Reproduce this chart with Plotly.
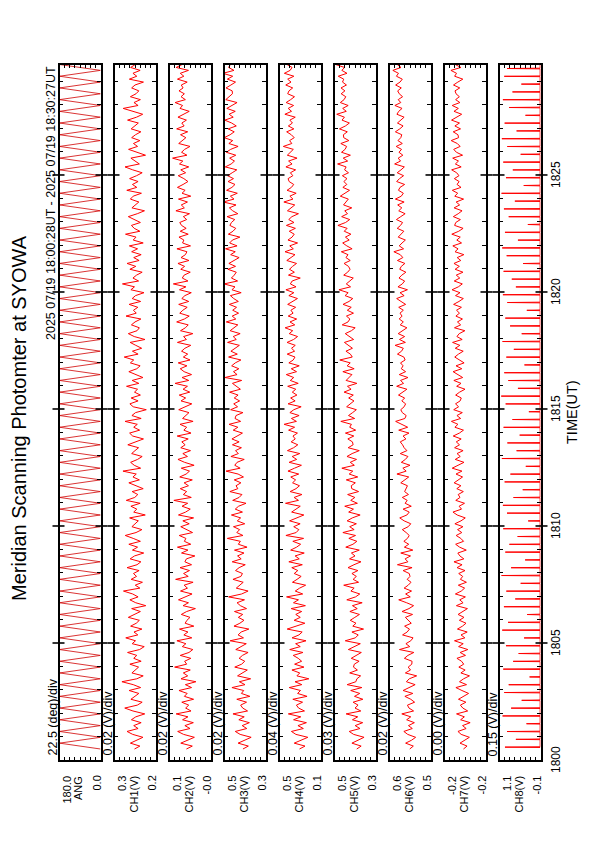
import plotly.graph_objects as go

# ---------------- data ----------------
panel_names = ["ANG", "CH1(V)", "CH2(V)", "CH3(V)", "CH4(V)", "CH5(V)", "CH6(V)", "CH7(V)", "CH8(V)"]
panel_min = [0.0, 0.17, -0.03, 0.33, 0.14, 0.26, 0.46, -0.215, -0.10]
panel_div = [22.5, 0.02, 0.02, 0.02, 0.04, 0.03, 0.02, 0.004, 0.15]
div_labels = ["22.5 (deg)/div", "0.02 (V)/div", "0.02 (V)/div", "0.02 (V)/div", "0.04 (V)/div",
              "0.03 (V)/div", "0.02 (V)/div", "0.00 (V)/div", "0.15 (V)/div"]
top_labels = ["180.0", "0.3", "0.1", "0.5", "0.5", "0.5", "0.6", "-0.2", "1.1"]
bottom_labels = ["0.0", "0.2", "-0.0", "0.3", "0.1", "0.3", "0.5", "-0.2", "-0.1"]

time_tick_vals = [0, 5, 10, 15, 20, 25]          # minutes after 18:00 UT
time_tick_text = ["1800", "1805", "1810", "1815", "1820", "1825"]
time_range = [0, 29.7]

title_text = "Meridian Scanning Photomter at SYOWA"
subtitle_text = "2025 07/19 18:00:28UT - 2025 07/19 18:30:27UT"

# scan angle (deg), one turning point every 15 s from 18:00:28
ang_start, ang_step = 0.47, 0.25
ang_deg = [0, 180, 0, 180, 0, 180, 0, 180, 0, 180, 0, 180, 0, 180, 0, 180, 0, 180, 0, 180,
           0, 180, 0, 180, 0, 180, 0, 180, 0, 180, 0, 180, 0, 180, 0, 180, 0, 180, 0, 180,
           0, 180, 0, 180, 0, 180, 0, 180, 0, 180, 0, 180, 0, 180, 0, 180, 0, 180, 0, 180,
           0, 180, 0, 180, 0, 180, 0, 180, 0, 180, 0, 180, 0, 180, 0, 180, 0, 180, 0, 180,
           0, 180, 0, 180, 0, 180, 0, 180, 0, 180, 0, 180, 0, 180, 0, 180, 0, 180, 0, 180,
           0, 180, 0, 180, 0, 180, 0, 180, 0, 180, 0, 180, 0, 180, 0, 180, 0, 180, 0, 180]

# photometer channels (mV), one sample every 7.5 s from 18:00:28
ch_start, ch_step = 0.47, 0.125
ch1_mv = [252, 231, 268, 244, 219, 259, 281, 238, 255, 226, 264, 247, 212, 258, 290,
          241, 222, 266, 250, 235, 273, 228, 257, 301, 243, 218, 262, 249, 236, 270,
          226, 255, 243, 279, 232, 214, 261, 248, 286, 239, 254, 223, 267, 245, 233,
          276, 251, 229, 263, 208, 247, 270, 238, 259, 295, 231, 249, 221, 265, 244,
          256, 234, 281, 242, 227, 269, 252, 216, 260, 240, 274, 229, 257, 288, 246,
          223, 262, 248, 237, 271, 210, 255, 243, 266, 230, 284, 251, 239, 261, 218,
          249, 274, 233, 258, 245, 297, 228, 253, 267, 240, 222, 263, 250, 236, 278,
          244, 217, 259, 271, 232, 255, 241, 289, 226, 262, 248, 206, 257, 270, 238,
          265, 229, 252, 240, 283, 235, 261, 219, 250, 274, 243, 230, 268, 255, 292,
          238, 260, 224, 247, 269, 211, 253, 276, 242, 233, 264, 250, 227, 285, 245,
          256, 239, 273, 228, 261, 248, 215, 266, 252, 299, 236, 258, 244, 222, 270,
          247, 281, 234, 255, 226, 263, 240, 272, 218, 257, 246, 287, 231, 253, 264,
          229, 250, 276, 241, 213, 262, 249, 235, 268, 257, 225, 282, 243, 260, 238,
          271, 244, 222, 259, 289, 233, 251, 266, 209, 247, 275, 240, 256, 231, 263,
          248, 227, 265, 252, 237, 279, 244, 220, 261, 296, 238, 254, 229, 268, 246,
          235, 263, 250, 217, 272, 243, 258, 230, 267, 249, 284, 226, 255, 241, 262]
ch2_mv = [64, 41, 86, 57, 33, 75, 98, 50, 70, 37, 79, 58, 104, 46, 67,
          55, 82, 36, 72, 61, 93, 44, 68, 27, 85, 59, 76, 49, 110, 63,
          71, 47, 88, 54, 39, 80, 66, 101, 43, 74, 58, 91, 35, 69, 62,
          50, 84, 63, 29, 77, 56, 95, 68, 42, 87, 60, 73, 38, 106, 57,
          75, 52, 89, 44, 70, 64, 31, 83, 58, 99, 47, 72, 66, 92, 40,
          61, 86, 53, 78, 36, 95, 67, 49, 81, 59, 113, 45, 76, 63, 88,
          56, 73, 41, 90, 65, 52, 84, 34, 71, 97, 60, 78, 48, 86, 69,
          82, 57, 100, 46, 74, 63, 89, 38, 79, 66, 54, 94, 70, 43, 85,
          67, 92, 51, 77, 60, 108, 55, 81, 44, 73, 88, 62, 96, 50, 76,
          59, 83, 70, 47, 99, 64, 75, 39, 87, 68, 57, 102, 72, 53, 90,
          78, 61, 94, 55, 82, 70, 45, 91, 66, 115, 58, 80, 73, 49, 86,
          71, 97, 54, 85, 68, 62, 101, 48, 79, 74, 93, 57, 88, 65, 83,
          90, 63, 76, 52, 105, 72, 84, 60, 95, 47, 81, 69, 99, 77, 58,
          74, 96, 67, 86, 55, 91, 78, 118, 62, 83, 71, 50, 94, 80, 66,
          87, 59, 102, 73, 82, 64, 97, 76, 53, 89, 79, 108, 68, 85, 72,
          93, 77, 84, 61, 99, 74, 88, 56, 104, 81, 70, 95, 79, 112, 83]
ch3_mv = [418, 397, 437, 409, 386, 429, 448, 403, 421, 393, 434, 413, 457, 400, 419,
          427, 404, 442, 391, 424, 415, 461, 410, 432, 388, 439, 418, 401, 450, 423,
          411, 433, 420, 398, 446, 427, 405, 468, 416, 437, 425, 395, 453, 430, 414,
          436, 419, 451, 404, 428, 441, 412, 474, 423, 398, 444, 431, 417, 457, 426,
          420, 447, 433, 409, 460, 425, 439, 414, 451, 402, 436, 428, 479, 418, 442,
          431, 455, 411, 440, 427, 463, 420, 448, 435, 406, 458, 433, 422, 469, 438,
          445, 426, 452, 416, 437, 484, 429, 450, 441, 413, 465, 436, 447, 424, 459,
          433, 461, 442, 420, 456, 438, 472, 427, 449, 445, 418, 466, 439, 454, 431,
          452, 437, 470, 428, 446, 459, 423, 488, 441, 455, 434, 462, 448, 426, 474,
          440, 465, 449, 432, 478, 444, 456, 429, 468, 451, 438, 483, 446, 460, 435,
          458, 443, 471, 436, 454, 467, 425, 461, 449, 492, 439, 463, 452, 444, 477,
          447, 473, 455, 433, 466, 448, 486, 441, 470, 459, 430, 475, 457, 446, 469,
          463, 450, 480, 438, 458, 471, 445, 495, 453, 467, 440, 482, 461, 449, 476,
          455, 478, 460, 442, 487, 464, 451, 470, 446, 483, 466, 437, 473, 458, 491,
          468, 452, 476, 444, 462, 489, 456, 472, 448, 481, 463, 441, 485, 470, 459,
          460, 484, 465, 447, 479, 458, 496, 453, 474, 467, 449, 488, 462, 477, 471]
ch4_mv = [304, 261, 345, 288, 239, 332, 367, 274, 316, 250, 350, 294, 391, 265, 311,
          328, 280, 356, 245, 319, 296, 384, 286, 339, 231, 324, 302, 363, 269, 342,
          287, 314, 353, 277, 380, 298, 334, 253, 362, 308, 283, 400, 321, 262, 346,
          298, 333, 287, 369, 258, 351, 312, 405, 279, 337, 303, 256, 359, 323, 291,
          345, 317, 364, 282, 387, 306, 338, 267, 373, 327, 295, 356, 272, 410, 330,
          309, 349, 299, 381, 322, 270, 365, 334, 298, 413, 312, 346, 285, 377, 331,
          304, 358, 334, 372, 310, 394, 343, 289, 385, 326, 361, 302, 398, 350, 317,
          369, 337, 355, 320, 389, 342, 424, 328, 367, 307, 379, 348, 291, 393, 338,
          373, 324, 360, 333, 396, 314, 376, 349, 407, 327, 368, 306, 387, 353, 339,
          400, 342, 366, 337, 401, 350, 319, 384, 357, 416, 341, 378, 326, 392, 354,
          371, 334, 396, 355, 320, 387, 348, 410, 331, 375, 361, 298, 390, 344, 382,
          358, 327, 403, 366, 339, 417, 352, 380, 319, 394, 362, 345, 384, 336, 406,
          347, 388, 363, 312, 398, 370, 341, 426, 355, 379, 330, 401, 367, 349, 385,
          393, 356, 375, 334, 410, 362, 389, 323, 399, 371, 352, 430, 364, 381, 345,
          368, 404, 348, 391, 359, 379, 337, 418, 366, 392, 350, 408, 373, 343, 396,
          386, 357, 411, 370, 396, 348, 422, 377, 362, 401, 339, 389, 375, 415, 360]
ch5_mv = [370, 344, 398, 359, 327, 388, 414, 351, 379, 335, 395, 364, 432, 346, 380,
          362, 391, 334, 383, 352, 405, 340, 426, 375, 369, 347, 411, 366, 389, 384,
          356, 402, 371, 343, 419, 386, 349, 437, 378, 361, 398, 330, 393, 374, 408,
          381, 354, 410, 367, 395, 338, 428, 377, 352, 404, 385, 446, 359, 391, 372,
          398, 363, 421, 386, 345, 412, 380, 401, 355, 434, 392, 369, 416, 377, 451,
          385, 411, 372, 426, 396, 350, 417, 389, 440, 366, 405, 381, 423, 359, 399,
          402, 378, 431, 364, 414, 393, 457, 384, 408, 371, 427, 397, 355, 420, 391,
          395, 422, 387, 436, 376, 411, 401, 463, 382, 418, 394, 372, 429, 405, 386,
          417, 390, 444, 403, 424, 369, 432, 412, 398, 451, 385, 426, 408, 469, 396,
          407, 433, 395, 419, 442, 388, 414, 437, 401, 379, 455, 421, 410, 430, 389,
          425, 402, 450, 415, 393, 438, 420, 474, 406, 431, 413, 390, 446, 423, 409,
          418, 444, 408, 433, 421, 460, 397, 428, 452, 414, 436, 404, 443, 426, 480,
          435, 411, 458, 424, 440, 399, 447, 430, 419, 466, 437, 412, 451, 428, 445,
          427, 454, 418, 441, 432, 482, 423, 449, 407, 459, 438, 429, 463, 416, 446,
          448, 425, 471, 436, 413, 456, 442, 487, 431, 452, 420, 466, 444, 434, 461,
          439, 462, 430, 453, 446, 478, 427, 457, 441, 493, 449, 436, 468, 445, 440]
ch6_mv = [541, 527, 557, 534, 518, 549, 564, 531, 546, 523, 553, 537, 572, 526, 544,
          550, 522, 537, 560, 529, 567, 540, 520, 554, 543, 514, 558, 538, 547, 533,
          532, 562, 548, 525, 581, 541, 556, 537, 528, 569, 551, 542, 561, 535, 546,
          558, 530, 571, 544, 526, 553, 584, 539, 557, 534, 563, 547, 536, 551, 540,
          543, 567, 532, 589, 548, 559, 538, 576, 529, 562, 545, 564, 550, 543, 555,
          570, 547, 537, 563, 580, 552, 543, 567, 535, 559, 551, 570, 546, 561, 556,
          550, 576, 562, 545, 591, 555, 568, 540, 574, 558, 548, 578, 552, 563, 569,
          578, 556, 567, 544, 584, 549, 573, 596, 560, 555, 570, 576, 563, 557, 572,
          561, 585, 569, 552, 592, 565, 577, 548, 582, 557, 574, 567, 577, 559, 564,
          589, 573, 566, 598, 558, 581, 561, 586, 568, 552, 578, 566, 582, 571, 579,
          566, 584, 557, 575, 592, 563, 579, 550, 587, 570, 561, 583, 572, 556, 580,
          574, 560, 589, 568, 578, 603, 565, 582, 571, 558, 586, 575, 564, 590, 577,
          569, 593, 576, 559, 584, 572, 588, 563, 597, 574, 566, 585, 579, 561, 592,
          581, 565, 590, 575, 562, 600, 577, 586, 568, 583, 573, 594, 570, 587, 576,
          572, 597, 580, 567, 589, 578, 563, 591, 584, 571, 599, 576, 586, 569, 582,
          588, 574, 596, 579, 570, 593, 585, 607, 575, 590, 581, 568, 595, 583, 578]
ch7_mv = [-197.8, -200.6, -195.1, -199.2, -202.4, -196.0, -193.5, -199.9, -197.1, -203.0, -195.6, -198.5, -192.4, -201.1, -197.3,
          -195.4, -199.7, -193.9, -198.3, -201.8, -196.6, -191.9, -200.2, -194.7, -197.9, -202.5, -195.8, -199.1, -194.2, -198.0,
          -196.3, -192.7, -199.4, -195.2, -201.2, -194.0, -197.6, -190.8, -198.9, -195.9, -200.7, -193.1, -197.0, -199.8, -194.6,
          -198.2, -193.6, -196.8, -200.9, -192.3, -197.5, -194.9, -199.3, -191.5, -196.1, -198.7, -193.8, -200.1, -195.4, -197.2,
          -194.1, -199.0, -192.8, -196.7, -190.4, -198.1, -195.0, -193.4, -200.0, -194.8, -191.7, -197.9, -195.7, -192.1, -196.5,
          -193.2, -197.4, -191.1, -195.9, -199.2, -192.9, -189.6, -196.3, -194.4, -198.6, -191.8, -195.1, -193.7, -197.7, -192.6,
          -195.8, -190.5, -194.2, -197.1, -192.0, -196.6, -189.0, -193.9, -198.2, -191.4, -195.3, -192.8, -197.5, -190.9, -194.7,
          -192.2, -196.0, -189.8, -194.6, -197.8, -191.1, -193.5, -188.4, -195.6, -192.7, -196.9, -190.2, -194.0, -191.6, -195.2,
          -196.1, -191.7, -194.8, -199.0, -192.5, -195.9, -190.3, -197.2, -193.6, -189.7, -196.5, -192.0, -198.3, -194.2, -191.0,
          -193.9, -197.6, -191.4, -195.0, -189.3, -196.8, -192.7, -194.5, -198.9, -190.8, -195.6, -193.1, -197.0, -191.9, -194.7,
          -192.4, -196.2, -190.1, -194.3, -197.7, -191.6, -195.1, -188.9, -193.8, -196.9, -190.6, -194.9, -192.2, -197.4, -191.3,
          -194.6, -190.4, -195.7, -192.9, -198.1, -191.2, -193.6, -189.5, -196.3, -192.6, -195.3, -188.7, -194.1, -197.5, -190.9,
          -191.8, -195.4, -189.9, -193.7, -196.7, -190.5, -194.8, -192.1, -197.9, -191.0, -193.3, -189.1, -195.9, -192.8, -194.4,
          -190.7, -194.3, -192.5, -188.6, -196.0, -191.5, -193.9, -189.4, -197.1, -192.3, -190.2, -195.2, -193.0, -188.2, -194.0,
          -193.5, -189.8, -195.5, -191.1, -194.7, -188.5, -192.7, -196.4, -190.4, -193.8, -189.0, -195.0, -191.7, -194.6, -192.0,
          -191.2, -194.9, -190.0, -193.4, -197.3, -190.9, -192.4, -188.0, -195.8, -191.4, -194.2, -189.6, -196.1, -192.5, -190.6]

# CH8: short spikes every 20 s on a baseline (mV)
ch8_start, ch8_step = 0.55, 1.0 / 3.0
ch8_base_mv = -90
ch8_peak_mv = [940, 620, 880, 310, 1010, 760, 450, 960, 830, 220, 990, 700, 540, 910, 380,
               1020, 850, 290, 970, 640, 900, 480, 1040, 760, 350, 930, 810, 570, 990, 260,
               880, 1000, 690, 420, 950, 780, 330, 1030, 600, 870, 510, 980, 720, 240, 920,
               1050, 560, 840, 960, 370, 900, 680, 1010, 450, 790, 930, 300, 870, 1000, 620,
               740, 980, 410, 890, 1020, 560, 940, 270, 830, 970, 650, 1040, 390, 910, 710,
               990, 480, 870, 1030, 600, 950, 340, 820, 1000, 720, 460, 960, 880, 280, 930]

# ---------------- layout geometry (px) ----------------
W, H = 595, 842
PANEL_LEFT0, PANEL_STEP, PANEL_W = 59.5, 55.0, 41.0
TOP, BOTTOM = 65.0, 760.0
FONT = "Liberation Sans, Arial, Helvetica, sans-serif"
RED = "#ff0000"


def fx(px):
    return px / W


def fy(px):
    return 1.0 - px / H


fig = go.Figure()

ang_time = [ang_start + ang_step * k for k in range(len(ang_deg))]
series = [(ang_deg, ang_time)]
for arr in [ch1_mv, ch2_mv, ch3_mv, ch4_mv, ch5_mv, ch6_mv, ch7_mv]:
    series.append(([v / 1000.0 for v in arr], [ch_start + ch_step * k for k in range(len(arr))]))
ch8_x, ch8_y = [], []
d = 0.015
for k, pk in enumerate(ch8_peak_mv):
    t = ch8_start + ch8_step * k
    ch8_x += [ch8_base_mv / 1000.0, pk / 1000.0, ch8_base_mv / 1000.0]
    ch8_y += [t - d, t, t + d]
series.append((ch8_x, ch8_y))

minor_minutes = [m for m in range(1, 30) if m % 5 != 0]
major_minutes = [5, 10, 15, 20, 25]

annotations = []
shapes = []
layout_axes = {}

for i in range(9):
    sfx = "" if i == 0 else str(i + 1)
    L = PANEL_LEFT0 + PANEL_STEP * i
    R = L + PANEL_W
    vmin = panel_min[i]
    vmax = vmin + 8 * panel_div[i]
    xs, ys = series[i]
    fig.add_trace(go.Scatter(
        x=xs, y=ys, mode="lines",
        line=dict(color=RED if i > 0 else "#d00000", width=1 if i > 0 else 0.8),
        xaxis="x" + sfx, yaxis="y" + sfx, showlegend=False, hoverinfo="skip"))

    layout_axes["xaxis" + sfx] = dict(
        domain=[fx(L), fx(R)], range=[vmax, vmin], anchor="y" + sfx,
        showline=True, linecolor="black", linewidth=2, mirror="ticks",
        ticks="inside", ticklen=3, tickwidth=1, tickcolor="black",
        tickmode="array", tickvals=[vmin + k * panel_div[i] for k in range(1, 8)],
        showticklabels=False, showgrid=False, zeroline=False, fixedrange=True)
    layout_axes["yaxis" + sfx] = dict(
        domain=[fy(BOTTOM), fy(TOP)], range=time_range, anchor="x" + sfx,
        showline=True, linecolor="black", linewidth=2, mirror="ticks",
        ticks="inside", ticklen=3.5, tickwidth=1, tickcolor="black",
        tickmode="array", tickvals=minor_minutes,
        showticklabels=False, showgrid=False, zeroline=False, fixedrange=True)

    # major time ticks crossing each panel edge
    for t in major_minutes:
        for (a, b) in [(L - 7, L + 5), (R - 5, R + 7)]:
            shapes.append(dict(type="line", xref="paper", yref="y", x0=fx(a), x1=fx(b),
                               y0=t, y1=t, line=dict(color="black", width=1.6)))

    # labels below each panel (rotated)
    for txt, cx in [(top_labels[i], L + 7), (panel_names[i], L + 18.5), (bottom_labels[i], R - 4.5)]:
        annotations.append(dict(text=txt, xref="paper", yref="paper", x=fx(cx), y=fy(774),
                                xanchor="center", yanchor="top", textangle=-90, showarrow=False,
                                font=dict(family=FONT, size=11, color="black")))
    # scale label left of each panel
    annotations.append(dict(text=div_labels[i], xref="paper", yref="paper", x=fx(L - 7.5), y=fy(758),
                            xanchor="center", yanchor="bottom", textangle=-90, showarrow=False,
                            font=dict(family=FONT, size=12.5, color="black")))

# time tick labels
for tv, tt in zip(time_tick_vals, time_tick_text):
    annotations.append(dict(text=tt, xref="paper", yref="y", x=fx(556), y=tv,
                            xanchor="center", yanchor="middle", textangle=-90, showarrow=False,
                            font=dict(family=FONT, size=12, color="black")))

annotations.append(dict(text="TIME(UT)", xref="paper", yref="paper", x=fx(572), y=fy(412),
                        xanchor="center", yanchor="middle", textangle=-90, showarrow=False,
                        font=dict(family=FONT, size=14.5, color="black")))
annotations.append(dict(text=title_text, xref="paper", yref="paper", x=fx(19), y=fy(418),
                        xanchor="center", yanchor="middle", textangle=-90, showarrow=False,
                        font=dict(family=FONT, size=20, color="black")))
annotations.append(dict(text=subtitle_text, xref="paper", yref="paper", x=fx(51), y=fy(64),
                        xanchor="center", yanchor="top", textangle=-90, showarrow=False,
                        font=dict(family=FONT, size=12.5, color="black")))

fig.update_layout(
    width=W, height=H, autosize=False,
    margin=dict(l=0, r=0, t=0, b=0, pad=0),
    paper_bgcolor="white", plot_bgcolor="white",
    showlegend=False, annotations=annotations, shapes=shapes,
    **layout_axes)

fig.write_html("out.html", config={"displayModeBar": False},
               post_script="document.body.style.margin='0';document.body.style.padding='0';")
